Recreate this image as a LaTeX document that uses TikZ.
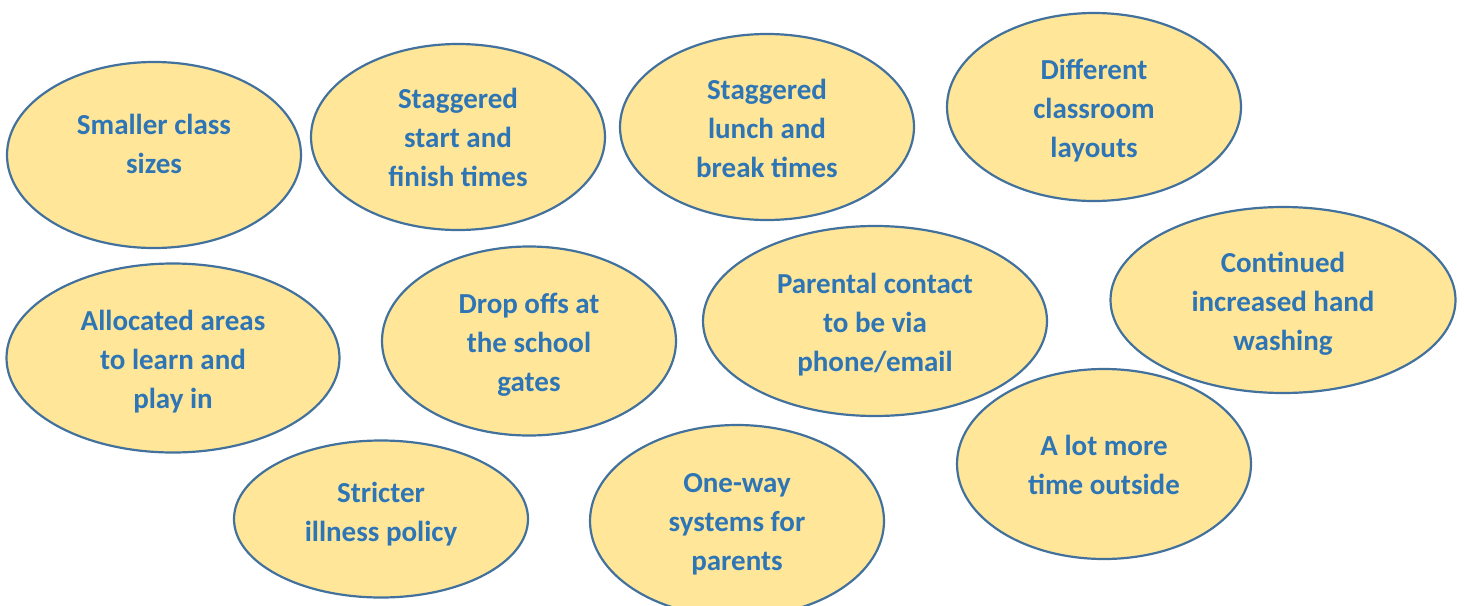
\documentclass[tikz,border=0pt]{standalone}
\usepackage{fontspec}
\setmainfont{Carlito}
\usetikzlibrary{shapes.geometric}
\definecolor{efill}{HTML}{FFE699}
\definecolor{edraw}{HTML}{41719C}
\definecolor{etext}{HTML}{2E75B6}
\tikzset{
  bubble/.style={ellipse, draw=edraw, fill=efill, line width=2.2pt, inner sep=0pt},
  btext/.style={text=etext, align=center, inner sep=0pt, font=\fontsize{29}{39}\selectfont\bfseries},
}
\begin{document}
\begin{tikzpicture}[x=1pt,y=-1pt]
\useasboundingbox (0,0) rectangle (1464,605);
\node[bubble, minimum width=294, minimum height=186] (n1) at (154,155) {};
\node[bubble, minimum width=294, minimum height=186] (n2) at (458,137) {};
\node[bubble, minimum width=294, minimum height=186] (n3) at (767,127) {};
\node[bubble, minimum width=294, minimum height=188] (n4) at (1094,107) {};
\node[bubble, minimum width=333, minimum height=189] (n5) at (173,358) {};
\node[bubble, minimum width=294, minimum height=189] (n6) at (529,341) {};
\node[bubble, minimum width=344, minimum height=190] (n7) at (875,321) {};
\node[bubble, minimum width=345, minimum height=186] (n8) at (1283,300) {};
\node[bubble, minimum width=294, minimum height=157] (n9) at (381,519) {};
\node[bubble, minimum width=294, minimum height=192] (n10) at (737,521) {};
\node[bubble, minimum width=294, minimum height=190] (n11) at (1104,464) {};
\node[btext] (t1) at (154,144) {Smaller class\\sizes};
\node[btext] (t2) at (458,137) {Staggered\\start and\\finish times};
\node[btext] (t3) at (767,128) {Staggered\\lunch and\\break times};
\node[btext] (t4) at (1094,111) {Different\\classroom\\layouts};
\node[btext] (t5) at (173,362) {Allocated areas\\to learn and\\play in};
\node[btext] (t6) at (529,345) {Drop offs at\\the school\\gates};
\node[btext] (t7) at (875,325) {Parental contact\\to be via\\phone/email};
\node[btext] (t8) at (1283,304) {Continued\\increased hand\\washing};
\node[btext] (t9) at (381,514.5) {Stricter\\illness policy};
\node[btext] (t10) at (737,524) {One-way\\systems for\\parents};
\node[btext] (t11) at (1104,465) {A lot more\\time outside};
\end{tikzpicture}
\end{document}
